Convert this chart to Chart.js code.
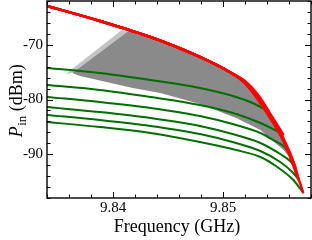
<!DOCTYPE html>
<html><head><meta charset="utf-8">
<script src="https://cdn.jsdelivr.net/npm/chart.js@4.4.0/dist/chart.umd.min.js"></script>
<style>html,body{margin:0;padding:0;background:#fff;}canvas{display:block;}</style>
</head><body>
<canvas id="c" width="312" height="240"></canvas>
<script>
// ---- axes ----
const xRange = [9.834, 9.858];
const yRange = [-98, -62];
const xTicks = [9.84, 9.85];
const xTickLabels = ['9.84', '9.85'];
const yTicks = [-90, -80, -70];
const yTickLabels = ['-90', '-80', '-70'];

// ---- red curves (frequency GHz, power dBm) ----
const redA_f = [9.8340, 9.8388, 9.8434, 9.8479, 9.8506, 9.8520, 9.8532, 9.8542];
const redA_p = [-62.91, -65.65, -68.58, -72.23, -74.97, -76.62, -79.18, -82.29];
const redB_f = [9.8340, 9.8388, 9.8434, 9.8479, 9.8506, 9.8520, 9.8532, 9.8543, 9.8555];
const redB_p = [-62.91, -65.65, -68.58, -72.23, -74.97, -76.80, -79.54, -82.65, -86.49];
const redC_f = [9.8340, 9.8388, 9.8434, 9.8479, 9.8506, 9.8520, 9.8532, 9.8543, 9.8554, 9.8560];
const redC_p = [-62.91, -65.65, -68.58, -72.23, -74.97, -76.80, -79.73, -83.02, -86.67, -89.60];
const redD_f = [9.8340, 9.8388, 9.8434, 9.8479, 9.8506, 9.8520, 9.8532, 9.8543, 9.8554, 9.8561, 9.8566];
const redD_p = [-62.91, -65.65, -68.58, -72.23, -74.97, -76.99, -79.91, -83.20, -86.85, -89.78, -92.52];
const redE_f = [9.8340, 9.8388, 9.8434, 9.8479, 9.8506, 9.8520, 9.8532, 9.8543, 9.8554, 9.8561, 9.8565, 9.8569];
const redE_p = [-62.91, -65.65, -68.58, -72.23, -74.97, -76.99, -79.91, -83.38, -87.04, -90.14, -91.97, -94.71];
const redF_f = [9.8340, 9.8388, 9.8434, 9.8479, 9.8506, 9.8520, 9.8532, 9.8543, 9.8554, 9.8561, 9.8566, 9.8570, 9.8573];
const redF_p = [-62.91, -65.65, -68.58, -72.23, -74.97, -76.99, -80.09, -83.38, -87.22, -90.51, -93.25, -95.26, -97.09];

// ---- green curves ----
const grnA_f = [9.8340, 9.8388, 9.8434, 9.8479, 9.8512, 9.8529, 9.8542];
const grnA_p = [-74.24, -75.16, -76.44, -77.90, -79.54, -80.82, -82.29];
const grnB_f = [9.8340, 9.8388, 9.8434, 9.8479, 9.8512, 9.8534, 9.8547, 9.8555];
const grnB_p = [-77.35, -78.26, -79.54, -81.01, -82.65, -84.30, -85.57, -86.49];
const grnC_f = [9.8340, 9.8388, 9.8434, 9.8479, 9.8512, 9.8534, 9.8547, 9.8555, 9.8560];
const grnC_p = [-79.54, -80.46, -81.55, -83.02, -84.66, -86.12, -87.58, -88.50, -89.60];
const grnD_f = [9.8340, 9.8388, 9.8434, 9.8479, 9.8512, 9.8534, 9.8552, 9.8561, 9.8566];
const grnD_p = [-81.37, -82.29, -83.38, -84.84, -86.49, -87.95, -89.96, -91.24, -92.52];
const grnE_f = [9.8340, 9.8388, 9.8434, 9.8479, 9.8512, 9.8534, 9.8552, 9.8563, 9.8569];
const grnE_p = [-82.83, -83.75, -84.84, -86.31, -87.95, -89.41, -91.42, -93.25, -94.71];
const grnF_f = [9.8340, 9.8388, 9.8434, 9.8479, 9.8512, 9.8534, 9.8548, 9.8564, 9.8573];
const grnF_p = [-84.11, -85.03, -86.12, -87.77, -89.23, -90.51, -92.15, -94.71, -97.09];

// ---- measured (gray) region boundaries ----
const grayTop_f = [9.8363, 9.8414, 9.8434, 9.8479, 9.8506, 9.8520, 9.8532, 9.8543, 9.8554, 9.8562];
const grayTop_p = [-75.16, -67.48, -68.85, -72.33, -75.07, -77.08, -80.18, -83.47, -87.31, -90.87];
const grayBot_f = [9.8363, 9.8370, 9.8418, 9.8443, 9.8479, 9.8512, 9.8534, 9.8555, 9.8562];
const grayBot_p = [-75.16, -75.71, -77.90, -78.81, -80.82, -83.38, -85.57, -89.23, -90.87];
const edgeTop_f = [9.8357, 9.8408, 9.8414];
const edgeTop_p = [-75.34, -67.30, -67.48];
const edgeBot_f = [9.8357, 9.8363, 9.8414];
const edgeBot_p = [-75.34, -75.16, -67.48];

const SERIF = '"Liberation Serif", "DejaVu Serif", serif';
const RED = '#ff0000', GREEN = '#006e00';

const ctx0 = document.getElementById('c').getContext('2d');
const mk = (f, p) => f.map((v, i) => ({x: v, y: p[i]}));
function curve(f, p, color, w, order) {
  return {data: mk(f, p), borderColor: color, borderWidth: w, pointRadius: 0, showLine: true,
          fill: false, cubicInterpolationMode: 'monotone', order};
}
function band(top, bot, color, order) {
  return [
    {data: top, borderWidth: 0, borderColor: 'rgba(0,0,0,0)', backgroundColor: color, pointRadius: 0,
     showLine: true, fill: '+1', tension: 0, order},
    {data: bot, borderWidth: 0, borderColor: 'rgba(0,0,0,0)', pointRadius: 0, showLine: true,
     fill: false, tension: 0, order}
  ];
}

const datasets = [
  curve(redA_f, redA_p, RED, 2.5, 1),
  curve(redB_f, redB_p, RED, 2.5, 1),
  curve(redC_f, redC_p, RED, 2.5, 1),
  curve(redD_f, redD_p, RED, 2.5, 1),
  curve(redE_f, redE_p, RED, 2.5, 1),
  curve(redF_f, redF_p, RED, 2.5, 1),
  curve(grnA_f, grnA_p, GREEN, 2, 2),
  curve(grnB_f, grnB_p, GREEN, 2, 2),
  curve(grnC_f, grnC_p, GREEN, 2, 2),
  curve(grnD_f, grnD_p, GREEN, 2, 2),
  curve(grnE_f, grnE_p, GREEN, 2, 2),
  curve(grnF_f, grnF_p, GREEN, 2, 2),
  ...band(mk(grayTop_f, grayTop_p), mk(grayBot_f, grayBot_p), '#8a8a8a', 3),
  ...band(mk(edgeTop_f, edgeTop_p), mk(edgeBot_f, edgeBot_p), '#c4c4c4', 4)
];

const framePlugin = {
  id: 'frame',
  afterDatasetsDraw(chart) {
    const {ctx, chartArea: a, scales: {x, y}} = chart;
    ctx.save();
    ctx.strokeStyle = '#000';
    ctx.lineWidth = 1.4;
    ctx.strokeRect(a.left, a.top, a.right - a.left, a.bottom - a.top);
    ctx.lineWidth = 1;
    ctx.beginPath();
    for (let k = 0; k <= 12; k++) {
      const v = xRange[0] + 0.002 * k;
      const major = xTicks.some(t => Math.abs(t - v) < 1e-6);
      const len = major ? 6 : 3.5;
      const px = Math.round(x.getPixelForValue(v)) + 0.5;
      ctx.moveTo(px, a.bottom); ctx.lineTo(px, a.bottom - len);
      ctx.moveTo(px, a.top); ctx.lineTo(px, a.top + len);
    }
    for (let v = yRange[0]; v <= yRange[1]; v += 2) {
      const major = yTicks.includes(v);
      const len = major ? 6 : 3.5;
      const py = Math.round(y.getPixelForValue(v)) + 0.5;
      ctx.moveTo(a.left, py); ctx.lineTo(a.left + len, py);
      ctx.moveTo(a.right, py); ctx.lineTo(a.right - len, py);
    }
    ctx.stroke();
    ctx.restore();
  },
  afterDraw(chart) {
    const {ctx} = chart;
    ctx.save();
    ctx.fillStyle = '#000';
    ctx.textBaseline = 'alphabetic';
    ctx.font = '18px ' + SERIF;
    ctx.textAlign = 'center';
    ctx.fillText('Frequency (GHz)', 177, 232);
    // y title: P_in (dBm)
    ctx.translate(21.5, 101);
    ctx.rotate(-Math.PI / 2);
    ctx.textAlign = 'left';
    ctx.font = 'italic 18px ' + SERIF; const wP = ctx.measureText('P').width;
    ctx.font = '13px ' + SERIF; const wIn = ctx.measureText('in').width;
    ctx.font = '18px ' + SERIF; const wR = ctx.measureText(' (dBm)').width;
    let s = -(wP + wIn + wR) / 2;
    ctx.font = 'italic 18px ' + SERIF; ctx.fillText('P', s, 0);
    ctx.font = '13px ' + SERIF; ctx.fillText('in', s + wP + 0.5, 4);
    ctx.font = '18px ' + SERIF; ctx.fillText(' (dBm)', s + wP + wIn + 0.5, 0);
    ctx.restore();
  }
};

new Chart(ctx0, {
  type: 'scatter',
  data: {datasets},
  options: {
    responsive: false, animation: false, devicePixelRatio: 1,
    layout: {padding: {top: 1, right: 1, left: 0, bottom: 0}},
    plugins: {legend: {display: false}, tooltip: {enabled: false}},
    scales: {
      x: {type: 'linear', min: xRange[0], max: xRange[1],
          grid: {display: false, drawTicks: false, tickLength: 0}, border: {display: false},
          afterBuildTicks: s => { s.ticks = xTicks.map(v => ({value: v})); },
          afterFit: s => { s.height = 42; s.paddingLeft = 0; s.paddingRight = 0; },
          ticks: {font: {family: SERIF, size: 15}, color: '#000', padding: 1, maxRotation: 0, autoSkip: false,
                  callback: v => xTickLabels[xTicks.findIndex(t => Math.abs(t - v) < 1e-9)]}},
      y: {type: 'linear', min: yRange[0], max: yRange[1],
          grid: {display: false, drawTicks: false, tickLength: 0}, border: {display: false},
          afterBuildTicks: s => { s.ticks = yTicks.map(v => ({value: v})); },
          afterFit: s => { s.width = 47; s.paddingTop = 0; s.paddingBottom = 0; },
          ticks: {font: {family: SERIF, size: 15}, color: '#000', padding: 4, autoSkip: false,
                  callback: v => yTickLabels[yTicks.indexOf(v)]}}
    }
  },
  plugins: [framePlugin]
});
</script>
</body></html>
